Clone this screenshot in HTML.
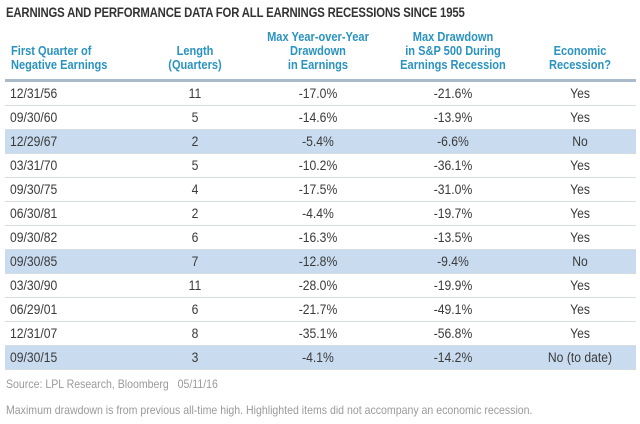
<!DOCTYPE html>
<html><head><meta charset="utf-8"><style>
body{margin:0;width:640px;height:424px;background:#fff;font-family:"Liberation Sans",sans-serif;overflow:hidden;position:relative}
#title{position:absolute;left:6px;top:5px;font-size:13.5px;font-weight:bold;color:#333;transform:scaleX(0.84);transform-origin:left;white-space:nowrap;letter-spacing:-0.2px}
.h{position:absolute;color:#2a93c0;font-weight:bold;font-size:13px;line-height:14px;transform:scaleX(0.85);white-space:nowrap}
.hc{text-align:center}
#rule{position:absolute;left:5px;top:79px;width:631px;height:3px;background:#a9bccb}
.row{position:absolute;left:5px;width:631px;height:24px;border-bottom:1px solid #d6dde3;box-sizing:border-box;color:#3a3a3a;font-size:13.5px}
.row.hl{background:#c9dcef}
.row span{position:absolute;top:4px;transform:scaleX(0.9);white-space:nowrap}
.c1{left:5px;transform-origin:left}
.c2,.c3,.c4,.c5{width:120px;text-align:center}
.c2{left:130px}.c3{left:253px}.c4{left:388px}.c5{left:515px}
.note{position:absolute;left:6px;color:#9a9a9a;font-size:12px;transform:scaleX(0.88);transform-origin:left;white-space:nowrap}
</style></head><body>
<div id="title">EARNINGS AND PERFORMANCE DATA FOR ALL EARNINGS RECESSIONS SINCE 1955</div>
<div class="h" style="left:11px;top:44px;transform-origin:left">First Quarter of<br>Negative Earnings</div>
<div class="h hc" style="left:145px;width:100px;top:44px">Length<br>(Quarters)</div>
<div class="h hc" style="left:248px;width:140px;top:30px">Max Year-over-Year<br>Drawdown<br>in Earnings</div>
<div class="h hc" style="left:378px;width:150px;top:30px">Max Drawdown<br>in S&amp;P 500 During<br>Earnings Recession</div>
<div class="h hc" style="left:530px;width:100px;top:44px">Economic<br>Recession?</div>
<div id="rule"></div>
<div id="rows"></div>
<div class="note" style="top:377px">Source: LPL Research, Bloomberg&nbsp;&nbsp; 05/11/16</div>
<div class="note" style="top:403px">Maximum drawdown is from previous all-time high. Highlighted items did not accompany an economic recession.</div>
<script>
const dates=["12/31/56","09/30/60","12/29/67","03/31/70","09/30/75","06/30/81","09/30/82","09/30/85","03/30/90","06/29/01","12/31/07","09/30/15"];
const lengths=[11,5,2,5,4,2,6,7,11,6,8,3];
const earningsDD=["-17.0%","-14.6%","-5.4%","-10.2%","-17.5%","-4.4%","-16.3%","-12.8%","-28.0%","-21.7%","-35.1%","-4.1%"];
const spDD=["-21.6%","-13.9%","-6.6%","-36.1%","-31.0%","-19.7%","-13.5%","-9.4%","-19.9%","-49.1%","-56.8%","-14.2%"];
const recession=["Yes","Yes","No","Yes","Yes","Yes","Yes","No","Yes","Yes","Yes","No (to date)"];
const host=document.getElementById('rows');
dates.forEach((d,i)=>{
  const r=document.createElement('div');
  r.className='row'+(recession[i].startsWith('No')?' hl':'');
  r.style.top=(82+i*24)+'px';
  
  
  [d,lengths[i],earningsDD[i],spDD[i],recession[i]].forEach((v,j)=>{
    const s=document.createElement('span');
    s.className='c'+(j+1);
    s.textContent=v;
    
    
    r.appendChild(s);
  });
  host.appendChild(r);
});
</script>
</body></html>
